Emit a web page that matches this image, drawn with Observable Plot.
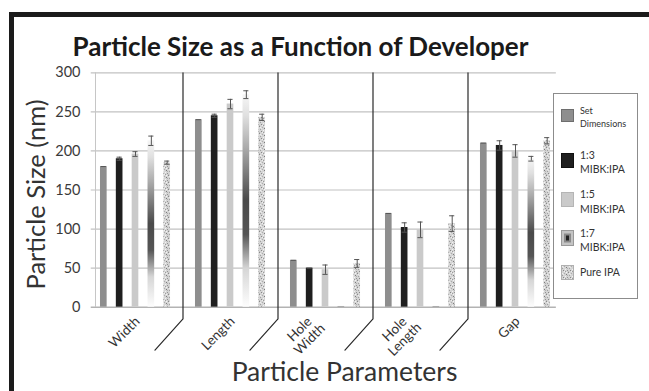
<!DOCTYPE html>
<html><head><meta charset="utf-8">
<script src="https://cdn.jsdelivr.net/npm/d3@7"></script>
<script src="https://cdn.jsdelivr.net/npm/@observablehq/plot@0.6"></script>
<style>
body{margin:0;background:#fff;overflow:hidden}
#wrap{position:relative;width:649px;height:391px;font-family:Lato,sans-serif}
#wrap > svg{position:absolute;left:0;top:0}
.frameT{position:absolute;left:9px;top:12px;width:640px;height:4.5px;background:#1b1b1b}
.frameL{position:absolute;left:9px;top:12px;width:4.5px;height:379px;background:#1b1b1b}
#legend{position:absolute;left:553px;top:93px;width:85px;height:206px;border:1px solid #8c8c8c;background:#fff;box-sizing:border-box}
.sw{position:absolute;left:7px;width:13px}
.sw svg{display:block}
.lt{position:absolute;left:26px;color:#333;white-space:pre-line}
</style></head><body>
<div id="wrap"><div class="frameT"></div><div class="frameL"></div></div>
<script>
// ---- data ----
const groups = ["Width", "Length", "Hole\nWidth", "Hole\nLength", "Gap"];
const seriesNames = ["Set\nDimensions", "1:3\nMIBK:IPA", "1:5\nMIBK:IPA", "1:7\nMIBK:IPA", "Pure IPA"];
const setDimensions = [180, 240, 60, 120, 210];
const mibk13 = [190, 245, 50, 102, 207];
const mibk15 = [196, 260, 48, 99, 200];
const mibk17 = [213, 272, 1, 1, 190];
const pureIPA = [185, 243, 56, 107, 213];
const errSet = [0, 0, 0, 0, 0];
const err13 = [2, 2, 0, 6, 6];
const err15 = [3, 6, 6, 10, 8];
const err17 = [6, 5, 0, 0, 3];
const errIPA = [2, 4, 5, 10, 4];
const yTicks = [0, 50, 100, 150, 200, 250, 300];
const title = "Particle Size as a Function of Developer";
const yTitle = "Particle Size (nm)";
const xTitle = "Particle Parameters";

// ---- styling ----
const fills = ["#8e8e8e", "#1f1f1f", "#cacaca", "url(#grad17)", "url(#speckle)"];
const values = [setDimensions, mibk13, mibk15, mibk17, pureIPA];
const errors = [errSet, err13, err15, err17, errIPA];
const rows = [];
values.forEach((arr, s) => arr.forEach((v, g) => rows.push({g, s, v, e: errors[s][g]})));
const step = 0.1668, half = 0.035, cap = 0.027;
const xc = d => d.g + 0.5 + (d.s - 2) * step;

const sepRows = [1, 2, 3, 4].flatMap(b => [
  {b, x: b, y: 300}, {b, x: b, y: -15}, {b, x: b - 0.295, y: -55}
]);
const gi = groups.map((name, i) => ({name, i}));
const single = gi.filter(d => !d.name.includes("\n"));
const multi = gi.filter(d => d.name.includes("\n"));

const svg = Plot.plot({
  width: 649, height: 391,
  marginLeft: 87.5, marginRight: 86.5, marginTop: 72.3, marginBottom: 84.3,
  x: {domain: [0, 5], axis: null},
  y: {domain: [0, 300], axis: null},
  color: {type: "identity"},
  style: {fontFamily: "Lato, sans-serif", background: "transparent", overflow: "visible"},
  marks: [
    Plot.ruleY(yTicks.filter(t => t > 0), {y: d => d, x1: 0.034, x2: 4.93, stroke: "#c2c2c2", strokeWidth: 1.2}),
    Plot.ruleX([0.079], {x: d => d, y1: 0, y2: 300, stroke: "#c6c6c6"}),
    Plot.ruleY([0], {y: d => d, x1: 0.034, x2: 4.93, stroke: "#b3b3b3", strokeWidth: 1.4}),
    Plot.rectY(rows, {x1: d => xc(d) - half, x2: d => xc(d) + half, y1: 0, y2: "v", fill: d => fills[d.s]}),
    Plot.ruleX(rows.filter(d => d.e > 0), {x: xc, y1: d => d.v - d.e, y2: d => d.v + d.e, stroke: "#555"}),
    Plot.ruleY(rows.filter(d => d.v > 5), {y: d => d.v + d.e, x1: d => xc(d) - cap, x2: d => xc(d) + cap, stroke: "#555"}),
    Plot.ruleY(rows.filter(d => d.e > 0), {y: d => d.v - d.e, x1: d => xc(d) - cap, x2: d => xc(d) + cap, stroke: "#555"}),
    Plot.line(sepRows, {x: "x", y: "y", z: "b", stroke: "#2a2a2a", strokeWidth: 1.2}),
    Plot.text(yTicks, {x: 0, y: d => d, text: d => String(d), textAnchor: "end", dx: -7.5, fontSize: 14.5, fill: "#3a3a3a"}),
    Plot.text(single, {x: d => d.i + 0.5, y: 0, text: "name", rotate: -45, textAnchor: "end", lineAnchor: "middle", dx: 2, dy: 12, fontSize: 13.5, fill: "#333"}),
    Plot.text(multi, {x: d => d.i + 0.5, y: 0, text: "name", rotate: -45, textAnchor: "middle", lineAnchor: "middle", dx: -21, dy: 27, fontSize: 13.5, lineHeight: 1.05, fill: "#333"}),
    Plot.text([title], {frameAnchor: "top", text: d => d, textAnchor: "middle", lineAnchor: "bottom", dx: -25, dy: -17.3, fontSize: 26, fontWeight: "bold", fill: "#1a1a1a"}),
    Plot.text([yTitle], {frameAnchor: "left", text: d => d, textAnchor: "middle", lineAnchor: "middle", rotate: -90, dx: -51, dy: 4.5, fontSize: 25.5, fill: "#333"}),
    Plot.text([xTitle], {frameAnchor: "bottom", text: d => d, textAnchor: "middle", lineAnchor: "bottom", dx: 19, dy: 73.3, fontSize: 26.5, fill: "#333"})
  ]
});

// gradient & texture definitions
const defs = d3.select(svg).insert("defs", ":first-child");
const g = defs.append("linearGradient").attr("id", "grad17").attr("x1", 0).attr("y1", 0).attr("x2", 0).attr("y2", 1);
[[0, "#f6f6f6"], [0.1, "#e0e0e0"], [0.25, "#ababab"], [0.5, "#4a4a4a"], [0.66, "#555"], [0.82, "#d6d6d6"], [1, "#fdfdfd"]]
  .forEach(([o, c]) => g.append("stop").attr("offset", o).attr("stop-color", c));
const p = defs.append("pattern").attr("id", "speckle").attr("patternUnits", "userSpaceOnUse").attr("width", 7).attr("height", 7);
p.append("rect").attr("width", 7).attr("height", 7).attr("fill", "#d4d4d4");
[[0,0,"#8a8a8a"],[3,1,"#adadad"],[5,2,"#7c7c7c"],[1,3,"#a2a2a2"],[4,4,"#f2f2f2"],[6,5,"#949494"],[2,5,"#888"],[0,6,"#bdbdbd"],[3,6,"#f0f0f0"],[5,0,"#f4f4f4"],[1,1,"#eeeeee"],[6,3,"#b2b2b2"],[2,2,"#e8e8e8"],[4,6,"#9c9c9c"]]
  .forEach(([x, y, c]) => p.append("rect").attr("x", x).attr("y", y).attr("width", 1).attr("height", 1).attr("fill", c));

const wrap = document.getElementById("wrap");
wrap.insertBefore(svg, wrap.firstChild);

// legend
const legend = document.createElement("div");
legend.id = "legend";
const swTops = [15, 59, 98, 136, 171];
const swH = [13, 15, 15, 16, 15];
const txTops = [10, 53.75, 93.25, 131.75, 171.25];
const txSize = [9, 10.5, 10.5, 10.5, 10.5];
const txLH = [13, 14.5, 14.5, 14.5, 14.5];
seriesNames.forEach((name, s) => {
  const sw = document.createElement("div");
  sw.className = "sw";
  sw.style.top = swTops[s] + "px";
  sw.style.height = swH[s] + "px";
  let inner;
  if (s === 3) {
    inner = `<svg width="13" height="${swH[s]}"><rect x="0.5" y="0.5" width="12" height="${swH[s]-1}" fill="#c4c4c4" stroke="#999"/><rect x="3" y="3.5" width="7" height="${swH[s]-7}" fill="#8a8a8a"/><rect x="5" y="5.5" width="3" height="${swH[s]-11}" fill="#222"/></svg>`;
  } else {
    const stroke = ["#6e6e6e", "#111", "#b5b5b5", "", "#b0b0b0"][s];
    inner = `<svg width="13" height="${swH[s]}"><rect x="0.5" y="0.5" width="12" height="${swH[s]-1}" fill="${fills[s]}" stroke="${stroke}"/></svg>`;
  }
  sw.innerHTML = inner;
  legend.appendChild(sw);
  const t = document.createElement("div");
  t.className = "lt";
  t.style.top = txTops[s] + "px";
  t.style.fontSize = txSize[s] + "px";
  t.style.lineHeight = txLH[s] + "px";
  t.textContent = name;
  legend.appendChild(t);
});
wrap.appendChild(legend);
</script>
</body></html>
